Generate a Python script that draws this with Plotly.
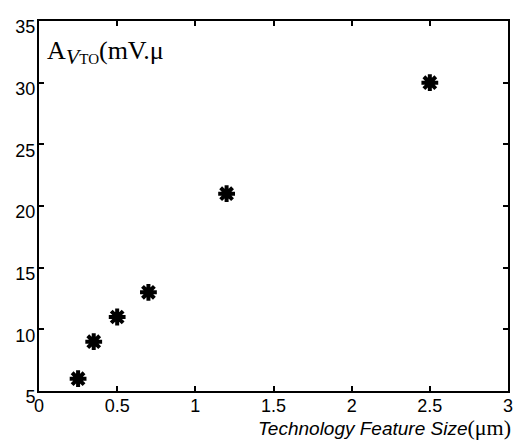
import plotly.graph_objects as go

feature_size = [0.25, 0.35, 0.5, 0.7, 1.2, 2.5]
a_vto = [6, 9, 11, 13, 21, 30]
x_ticks = [0, 0.5, 1, 1.5, 2, 2.5, 3]
x_tick_labels = ["0", "0.5", "1", "1.5", "2", "2.5", "3"]
y_ticks = [5, 10, 15, 20, 25, 30, 35]
y_tick_labels = ["5", "10", "15", "20", "25", "30", "35"]

fig = go.Figure()
fig.add_trace(go.Scatter(
    x=feature_size, y=a_vto, mode="markers",
    marker=dict(symbol="asterisk", size=14, color="black",
                line=dict(color="black", width=4)),
    showlegend=False, cliponaxis=False,
))

axis_common = dict(
    showgrid=False, zeroline=False, showline=True, linecolor="black", linewidth=2,
    mirror="allticks", ticks="inside", ticklen=5, tickwidth=1.5, tickcolor="black",
    tickfont=dict(family="Liberation Sans, Arial", size=18, color="black"),
    automargin=False,
)

fig.update_layout(
    width=514, height=445,
    margin=dict(l=39, r=6, t=21, b=54, autoexpand=False),
    paper_bgcolor="white", plot_bgcolor="white",
    xaxis=dict(range=[0, 3], tickvals=x_ticks, ticktext=x_tick_labels,
               ticklabelstandoff=-3, **axis_common),
    yaxis=dict(range=[5, 35], tickvals=y_ticks, ticktext=y_tick_labels,
               ticklabelstandoff=-2, ticklabelshift=6, **axis_common),
    annotations=[
        dict(xref="paper", yref="paper", x=0.012, y=0.916, xanchor="left", yanchor="middle",
             showarrow=False,
             text=("A<sub><span style='font-size:22px'><i>V</i></span>"
                   "<span style='font-size:15px'>TO</span></sub>(mV.μ"),
             font=dict(family="Liberation Serif, Times New Roman", size=26, color="black")),
        dict(xref="paper", yref="paper", x=1.0, y=-0.06, xanchor="right", yanchor="top",
             xshift=5, showarrow=False,
             text=("<i>Technology Feature Size</i>"
                   "<span style='font-family:Liberation Serif; font-size:22px'>(μm)</span>"),
             font=dict(family="Liberation Sans, Arial", size=19, color="black")),
    ],
)

fig.write_html("out.html", config={"displayModeBar": False},
               post_script="document.body.style.margin='0';document.body.style.overflow='hidden';")
